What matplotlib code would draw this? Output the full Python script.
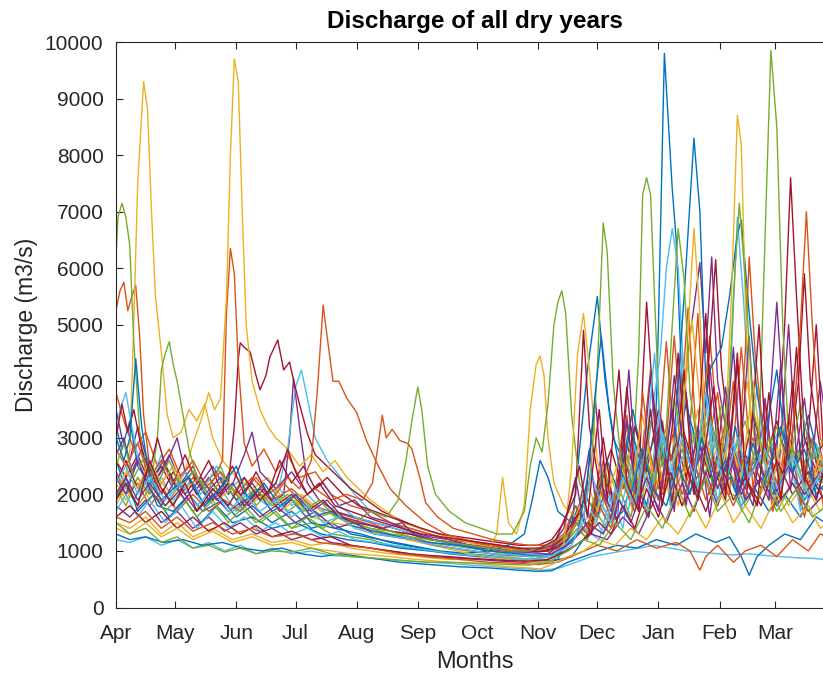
import matplotlib
matplotlib.use("Agg")
import matplotlib.pyplot as plt

# Day of the hydrological year (1 = 1 April) and discharge in m3/s for each dry year
dry01 = [(1,2600),(5,2200),(10,1900),(16,2300),(22,1800),(30,1700),(38,2000),(45,1700),(55,1900),(62,1600),(70,1800),(80,1500),(90,1700),(100,1400),(110,1500),(120,1300),(135,1200),(150,1100),(165,1000),(180,950),(195,900),(210,850),(222,820),(232,900),(240,1300),(246,1900),(252,1500),(258,1700),(264,2400),(270,1800),(274,2500),(276,5000),(279,9800),(283,7400),(285,6500),(289,3000),(294,2200),(300,2600),(306,1900),(312,2300),(318,1800),(325,2100),(332,1700),(340,2000),(348,1600),(356,2200),(365,1900)]
dry02 = [(1,5250),(3,5600),(5,5750),(7,5250),(9,5500),(11,5700),(13,4800),(15,3400),(18,2500),(22,2100),(28,2400),(34,2000),(40,2300),(48,1900),(56,2200),(64,2000),(72,2300),(80,1900),(90,2100),(100,1800),(110,1700),(120,1600),(130,1500),(140,1350),(150,1300),(160,1200),(172,1150),(185,1050),(198,1000),(210,950),(220,950),(230,1200),(236,1700),(242,1300),(248,2600),(254,1600),(260,3400),(265,1800),(272,4200),(278,2000),(284,4800),(290,2200),(296,5200),(300,2600),(306,3800),(312,2000),(318,4600),(324,2100),(330,3600),(336,1900),(342,3400),(348,1800),(354,3000),(360,1700),(365,2200)]
dry03 = [(1,1800),(5,2100),(8,2800),(10,5000),(12,7500),(15,9300),(17,8800),(19,7000),(21,5500),(24,4500),(27,3400),(30,3000),(34,3100),(38,3500),(42,3300),(46,3600),(50,3000),(55,2600),(62,2300),(70,2100),(78,2300),(86,1900),(95,2000),(105,1700),(115,1600),(125,1500),(135,1400),(145,1300),(155,1200),(165,1100),(178,1000),(190,950),(200,900),(210,850),(220,900),(228,1100),(234,1500),(240,1200),(246,1900),(252,1500),(258,2300),(263,1700),(269,2800),(274,2000),(280,2500),(286,1800),(293,3100),(298,2200),(304,2700),(310,2000),(318,2500),(326,1900),(334,2400),(342,1800),(350,2200),(358,1700),(365,2000)]
dry04 = [(1,3500),(4,3000),(8,2600),(12,3200),(16,2700),(22,2300),(28,2700),(34,2200),(40,2500),(46,2000),(54,2300),(62,1900),(70,2200),(78,1800),(86,2000),(89,3000),(91,4050),(94,3200),(98,2200),(104,1900),(112,1700),(122,1600),(132,1500),(142,1400),(152,1300),(162,1200),(174,1100),(186,1050),(198,1000),(210,950),(220,950),(228,1200),(234,1800),(240,1400),(246,2300),(252,1700),(258,2700),(264,2000),(270,2500),(276,1900),(282,2900),(288,3500),(292,4800),(297,6100),(300,4500),(303,6200),(306,4000),(312,2800),(318,2200),(324,3000),(330,2300),(336,5400),(340,3200),(346,2500),(352,3100),(358,2300),(365,2600)]
dry05 = [(1,6200),(2,6900),(4,7150),(6,6900),(8,6400),(10,4700),(13,3100),(16,2400),(20,2000),(26,1800),(32,2100),(40,1700),(48,1900),(56,1600),(64,1800),(72,1500),(80,1700),(90,1400),(100,1500),(110,1300),(120,1250),(130,1200),(140,1100),(150,1050),(160,1000),(170,950),(180,920),(190,900),(200,880),(210,850),(220,900),(228,1100),(235,1400),(240,1200),(246,1800),(252,1400),(258,2200),(262,1900),(266,4500),(268,7300),(270,7600),(272,7300),(274,5500),(277,3000),(282,2200),(288,2800),(294,2000),(300,2600),(306,1900),(312,2400),(320,1800),(328,2300),(336,1700),(344,2200),(352,1700),(360,2000),(365,1800)]
dry06 = [(1,2400),(6,2100),(12,2600),(18,2000),(24,2300),(30,1900),(38,2200),(46,1800),(54,2100),(62,1700),(70,2000),(78,1800),(84,2200),(88,2800),(92,3900),(95,4200),(98,3700),(102,3000),(108,2600),(115,2300),(122,2000),(130,1700),(140,1500),(150,1400),(160,1300),(170,1200),(180,1100),(190,1050),(200,1000),(210,950),(220,1000),(228,1200),(235,1500),(242,1300),(250,2000),(256,1600),(262,2500),(268,2000),(273,3500),(277,4500),(280,6000),(283,6700),(286,6000),(289,4000),(292,3200),(298,2500),(304,3100),(310,2400),(313,4500),(316,6900),(319,5500),(323,3300),(330,2600),(338,3200),(344,2400),(350,3000),(356,2200),(365,2500)]
dry07 = [(1,2600),(6,2300),(12,2700),(18,2200),(24,2500),(30,2100),(36,2400),(42,2000),(48,2300),(54,2000),(58,2200),(61,3200),(63,4400),(64,4680),(66,4600),(69,4520),(72,4100),(74,3850),(77,4100),(79,4430),(83,4730),(86,4200),(89,4340),(91,4020),(94,3600),(98,3080),(102,2700),(108,2500),(114,2300),(120,2100),(128,1900),(136,1700),(145,1550),(155,1400),(165,1300),(175,1200),(185,1150),(195,1100),(205,1050),(215,1000),(225,1050),(232,1300),(238,1900),(242,1500),(248,2400),(254,1800),(260,2900),(266,2100),(268,4000),(270,5400),(273,3800),(278,2500),(284,3100),(290,2300),(296,3000),(302,2300),(308,2900),(314,2200),(320,2700),(328,2100),(336,2800),(340,5000),(343,7600),(346,5500),(350,3000),(356,2400),(365,2800)]
dry08 = [(1,3200),(4,2800),(8,3300),(12,2500),(18,2200),(25,2600),(32,2100),(40,2400),(48,1900),(56,2200),(64,1800),(72,2100),(80,1700),(90,1900),(100,1500),(112,1400),(125,1300),(140,1150),(155,1050),(170,950),(185,900),(200,850),(215,800),(225,850),(232,1400),(236,2800),(240,4200),(245,5500),(249,4000),(253,3000),(258,2600),(263,3500),(267,2800),(272,2400),(278,3000),(283,2600),(286,4000),(289,5500),(294,8300),(297,7000),(300,4000),(304,3000),(310,2400),(315,3200),(320,2300),(328,2800),(335,2000),(342,2500),(350,1900),(357,2300),(365,2000)]
dry09 = [(1,3800),(5,3300),(10,2800),(16,3100),(22,2500),(28,2800),(34,2300),(40,2600),(46,2200),(52,2400),(55,2600),(57,5200),(59,6350),(61,5900),(63,4300),(66,2900),(70,2500),(76,2800),(82,2400),(88,2700),(94,2300),(102,2400),(110,2000),(120,1800),(130,1700),(140,1500),(150,1400),(160,1300),(170,1200),(180,1150),(190,1100),(200,1050),(210,1000),(220,1050),(228,1250),(234,1600),(240,1300),(246,2300),(252,1500),(258,3200),(263,1800),(268,3800),(274,2000),(280,4700),(285,2400),(291,5300),(296,2600),(302,4800),(308,2300),(314,4000),(320,1900),(328,3400),(334,1700),(342,3000),(350,1600),(358,2800),(365,1800)]
dry10 = [(1,2200),(6,1900),(12,2300),(18,1900),(24,2200),(30,2000),(36,2400),(40,2900),(44,3300),(48,3800),(51,3500),(54,3700),(57,5500),(59,8000),(61,9700),(63,9300),(65,7000),(67,5000),(70,4000),(74,3500),(78,3200),(82,3000),(88,2800),(94,2500),(100,2700),(106,2400),(112,2600),(118,2300),(124,2100),(130,1900),(138,1700),(146,1500),(155,1400),(165,1300),(175,1200),(185,1100),(195,1050),(205,1000),(215,1000),(225,1100),(232,1300),(238,1800),(243,1400),(249,2300),(254,1700),(260,3200),(265,2200),(271,2800),(276,2100),(283,3000),(288,2200),(296,3500),(302,2500),(308,3000),(314,2200),(321,4000),(326,2600),(332,2200),(340,2900),(346,2100),(354,2500),(365,1900)]
dry11 = [(1,2700),(5,3000),(9,2400),(14,2800),(20,2200),(26,2500),(32,3000),(36,2400),(42,2100),(50,2500),(58,2000),(66,2700),(70,3100),(74,2400),(82,2100),(90,2400),(98,2000),(106,2200),(114,1800),(122,1900),(130,1600),(140,1500),(150,1350),(160,1250),(170,1200),(180,1100),(190,1050),(200,1000),(210,980),(220,1000),(230,1200),(236,1800),(241,2800),(245,1600),(250,2200),(255,1500),(261,4200),(265,2200),(271,1600),(278,3300),(284,1700),(290,3800),(296,1900),(302,4300),(308,2100),(314,4600),(318,2300),(324,1800),(330,3700),(336,1900),(342,5000),(346,2600),(352,1900),(358,4000),(365,2400)]
dry12 = [(1,2100),(6,1800),(12,2300),(18,2000),(22,3000),(24,4200),(26,4500),(28,4700),(30,4300),(32,4000),(35,3400),(38,2800),(42,2300),(48,2100),(54,2500),(60,2000),(66,2300),(72,1800),(80,2100),(88,1700),(96,1900),(104,1600),(112,1700),(120,1500),(130,1400),(140,1300),(150,1250),(160,1150),(170,1100),(180,1050),(190,1000),(200,950),(210,900),(220,920),(228,1100),(236,1300),(244,1700),(250,1400),(256,2100),(262,1600),(268,2600),(274,1900),(280,3000),(286,2200),(292,2800),(298,2100),(304,3000),(310,2300),(316,2900),(322,2400),(327,3000),(330,6500),(333,9850),(336,8500),(339,5000),(342,3000),(348,2400),(354,2900),(360,2200),(365,2400)]
dry13 = [(1,3000),(3,3500),(6,3800),(9,3200),(13,2500),(18,2200),(24,2700),(30,2100),(36,2400),(44,2000),(52,2500),(58,2100),(66,2300),(74,1900),(82,2200),(90,1800),(98,2000),(106,1700),(114,1800),(122,1600),(132,1500),(142,1400),(152,1300),(162,1200),(172,1100),(182,1050),(192,1000),(202,950),(212,920),(222,950),(230,1150),(238,1400),(246,1200),(252,2000),(258,1400),(264,2900),(270,1600),(276,3400),(282,1800),(288,4400),(294,2200),(300,3600),(306,1800),(312,3300),(318,1700),(326,3900),(332,1900),(340,3200),(348,1700),(356,2900),(365,1900)]
dry14 = [(1,3000),(4,3600),(7,3100),(10,3500),(14,2800),(18,2400),(22,3000),(26,2500),(30,2200),(36,2700),(42,2200),(48,2600),(54,2100),(60,2500),(66,2000),(72,2400),(78,2000),(84,2600),(90,2200),(96,2500),(102,2100),(108,2300),(116,2000),(124,1800),(132,1700),(140,1600),(148,1500),(156,1400),(165,1300),(175,1250),(185,1200),(195,1150),(205,1100),(215,1100),(222,1200),(228,1500),(234,2000),(238,4900),(241,3200),(246,2200),(252,2800),(258,2100),(264,3200),(270,2400),(276,3500),(282,2600),(288,3200),(294,2500),(300,3600),(305,6150),(308,4200),(312,3000),(318,2400),(324,3400),(330,2600),(336,3300),(342,2500),(347,4000),(350,5900),(353,4000),(358,2800),(365,3200)]
dry15 = [(1,1900),(6,2300),(12,1700),(20,2000),(28,1600),(36,1900),(44,1500),(52,1800),(60,1500),(70,1600),(80,1400),(92,1500),(105,1300),(118,1200),(130,1150),(145,1050),(160,1000),(175,950),(190,1000),(200,1100),(208,1300),(212,1900),(216,2600),(220,2300),(225,1700),(232,1500),(238,2000),(244,1700),(250,2600),(256,2000),(262,3200),(268,2400),(275,3100),(282,2200),(290,3600),(296,2800),(302,4200),(308,4600),(312,5500),(316,6600),(318,6850),(322,5200),(326,3800),(330,3000),(336,4200),(340,3000),(346,2600),(352,3400),(358,2500),(365,2200)]
dry16 = [(1,2400),(6,2000),(12,2200),(18,1800),(25,2100),(32,1700),(40,2000),(48,1700),(56,1900),(64,1700),(72,2000),(80,1900),(88,2300),(94,2100),(100,2600),(103,3800),(106,5350),(108,4800),(111,4000),(114,4000),(118,3700),(123,3450),(128,2950),(134,2500),(140,2100),(148,1800),(158,1500),(168,1300),(178,1200),(190,1100),(200,1050),(210,1000),(220,1050),(228,1200),(234,1500),(240,1300),(246,1800),(252,1400),(258,2200),(264,1700),(270,2600),(276,1900),(282,2400),(288,1800),(296,2800),(302,2000),(310,3300),(316,2400),(320,4500),(322,6200),(325,4500),(330,2800),(338,2300),(346,2800),(352,2200),(358,2600),(365,2000)]
dry17 = [(1,1500),(8,1400),(16,1600),(24,1300),(32,1500),(40,1250),(50,1400),(60,1200),(70,1300),(80,1150),(90,1200),(100,1100),(110,1150),(120,1050),(130,1000),(140,950),(150,920),(160,880),(170,850),(180,850),(188,900),(194,1300),(197,2300),(200,1500),(204,1300),(208,1800),(211,3500),(214,4300),(216,4450),(218,4100),(220,3000),(223,2200),(228,1800),(234,1600),(240,2200),(245,1700),(250,2500),(256,1900),(262,2800),(268,2000),(275,2600),(282,2000),(288,3000),(292,5500),(294,6700),(297,5200),(300,3000),(305,2400),(310,3100),(313,5500),(316,8700),(318,8200),(320,5500),(323,3000),(328,2500),(334,3000),(340,2300),(346,2800),(352,2100),(358,2500),(365,2000)]
dry18 = [(1,1800),(8,1600),(16,1900),(24,1500),(32,1700),(40,1400),(48,1600),(56,1350),(64,1500),(72,1300),(80,1400),(90,1200),(100,1300),(110,1150),(120,1100),(130,1050),(140,1000),(150,950),(160,900),(172,880),(184,850),(196,820),(208,800),(218,820),(226,950),(234,1100),(242,1300),(250,1200),(258,1600),(266,1300),(274,1900),(280,1500),(288,2200),(294,1700),(300,2400),(306,1800),(314,2600),(320,1900),(328,2300),(336,1800),(344,2200),(352,1700),(360,2000),(365,1800)]
dry19 = [(1,1900),(6,2200),(12,1800),(18,2100),(26,1700),(34,2000),(42,1600),(50,1900),(58,1500),(66,1800),(74,1500),(82,1700),(90,1400),(98,1600),(106,1400),(114,1600),(122,1500),(130,1700),(138,1600),(144,1900),(148,2600),(151,3300),(154,3900),(156,3500),(159,2500),(163,2000),(170,1700),(178,1500),(186,1400),(194,1300),(202,1300),(208,1700),(211,2500),(214,3000),(217,2750),(220,3600),(223,5000),(225,5400),(227,5600),(229,5200),(232,3400),(236,2200),(242,1800),(248,2400),(254,1900),(260,2700),(266,2000),(272,3300),(278,2500),(284,3700),(290,2600),(296,3200),(302,2400),(308,3600),(314,2700),(320,3300),(326,2400),(332,3000),(338,2300),(346,2800),(354,2200),(365,2500)]
dry20 = [(1,1200),(8,1150),(16,1250),(24,1100),(32,1200),(40,1050),(48,1150),(56,1000),(64,1100),(72,950),(80,1050),(90,950),(100,1000),(110,920),(120,900),(130,870),(140,850),(150,820),(160,800),(170,780),(180,750),(190,730),(200,700),(210,680),(218,660),(226,700),(234,800),(242,900),(250,950),(258,1000),(266,1050),(274,1100),(282,1050),(290,1000),(298,980),(306,950),(314,930),(322,950),(330,920),(338,900),(346,880),(354,870),(360,850),(365,840)]
dry21 = [(1,2200),(6,2600),(12,2100),(18,2500),(24,2000),(30,2400),(36,2000),(42,2300),(50,1900),(58,2200),(66,1800),(74,2100),(82,1800),(90,2000),(98,1700),(106,1900),(114,1600),(122,1500),(130,1450),(140,1350),(150,1300),(160,1200),(170,1150),(180,1100),(190,1050),(200,1000),(210,980),(220,1000),(228,1250),(236,1700),(242,1300),(248,3000),(254,1600),(260,3900),(265,2000),(271,1600),(277,3400),(283,1800),(289,4200),(294,2000),(300,5200),(304,2500),(310,1900),(316,4300),(321,2100),(327,5000),(331,2500),(338,1900),(344,4000),(350,2100),(356,5000),(360,2600),(365,3600)]
dry22 = [(1,1300),(8,1200),(16,1250),(25,1150),(35,1200),(45,1100),(55,1150),(65,1050),(75,1000),(85,1050),(95,950),(105,900),(115,950),(125,900),(135,850),(145,800),(160,760),(175,720),(190,700),(205,660),(215,640),(222,650),(230,800),(238,900),(246,1000),(255,1100),(265,1050),(275,1200),(285,1100),(295,1300),(305,1150),(312,1250),(318,900),(322,570),(326,900),(332,1100),(340,1300),(348,1200),(356,1600),(365,1400)]
dry23 = [(1,2800),(6,2500),(12,2900),(18,2300),(24,2600),(30,2200),(38,2500),(46,2100),(54,2400),(62,2000),(70,2300),(78,2000),(86,2200),(94,1900),(102,2100),(110,1900),(118,2000),(126,1900),(131,2200),(134,2900),(136,3400),(138,3000),(141,3150),(145,2950),(149,2900),(151,2800),(155,2300),(158,1850),(164,1600),(172,1400),(182,1300),(192,1200),(200,1150),(210,1100),(220,1100),(228,1300),(234,1800),(240,1400),(246,2100),(252,1600),(258,2500),(264,1800),(270,3000),(276,2100),(282,2700),(288,2000),(294,2600),(300,1900),(306,2400),(314,1800),(320,2300),(326,1800),(332,2600),(338,2000),(344,3100),(348,5000),(351,7000),(354,5000),(358,3000),(365,2500)]
dry24 = [(1,2000),(6,2400),(12,2100),(18,2600),(24,2200),(30,2500),(36,2100),(44,2300),(52,1900),(60,2100),(68,1800),(76,2000),(84,1700),(92,1900),(100,1600),(110,1500),(120,1450),(130,1350),(142,1250),(155,1150),(168,1050),(180,950),(192,880),(204,830),(214,800),(222,820),(228,1100),(232,2500),(235,4500),(238,5200),(241,4200),(245,2600),(250,2000),(256,2600),(262,2000),(268,3400),(273,2400),(279,2000),(285,2800),(290,4000),(293,5100),(296,4000),(300,2600),(306,2100),(312,3000),(318,2300),(324,4000),(328,2800),(334,2200),(340,3300),(346,2400),(352,2000),(358,2700),(365,2200)]
dry25 = [(1,2300),(6,2000),(12,2600),(18,2100),(24,1800),(30,2200),(36,1900),(44,2300),(52,1900),(60,2200),(68,1800),(76,2100),(84,1700),(92,2000),(100,1700),(108,1900),(116,1600),(126,1500),(136,1400),(146,1500),(152,1300),(162,1200),(172,1150),(182,1100),(192,1050),(202,1000),(212,1000),(222,1100),(228,1400),(234,2300),(238,1500),(244,3700),(248,2000),(254,1600),(260,3300),(266,1700),(272,4100),(277,2000),(283,3500),(290,1800),(296,3200),(302,1600),(310,3900),(316,2000),(322,4800),(326,2400),(332,1900),(338,4300),(343,2100),(350,3700),(356,1900),(365,3200)]
dry26 = [(1,2500),(5,2900),(10,2300),(16,2700),(22,2200),(28,2600),(34,2100),(40,2400),(48,2000),(56,2300),(64,1900),(72,2100),(80,1800),(88,2000),(96,1700),(104,1900),(112,1600),(120,1500),(130,1400),(140,1350),(150,1250),(160,1200),(170,1150),(180,1100),(190,1050),(200,1000),(210,1000),(220,1100),(230,1300),(238,1600),(242,2500),(245,4200),(248,6800),(250,6300),(253,4000),(257,2600),(262,2100),(268,2800),(274,2200),(280,3200),(283,5000),(286,6700),(289,5800),(292,3800),(296,2800),(302,3400),(308,2600),(312,4000),(314,5500),(317,7150),(320,5800),(324,3500),(330,2600),(336,3200),(342,2500),(348,3600),(354,2600),(360,3000),(365,2500)]
dry27 = [(1,1700),(6,2000),(12,1600),(18,1900),(26,1500),(34,1800),(42,1400),(50,1700),(58,1400),(66,1600),(74,1350),(82,1500),(90,1300),(98,1400),(106,1250),(114,1350),(122,1200),(132,1150),(142,1100),(152,1050),(162,1000),(172,950),(182,920),(192,900),(202,870),(212,850),(222,900),(230,1100),(236,1400),(242,1700),(248,1300),(254,2100),(260,1600),(266,2600),(272,2000),(278,3100),(284,2300),(290,2800),(296,2100),(302,3300),(308,2400),(314,2900),(320,2200),(328,2700),(336,2000),(344,2600),(352,1900),(360,2300),(365,2000)]
dry28 = [(1,1600),(8,1800),(16,1500),(24,1700),(32,1400),(40,1600),(48,1350),(56,1500),(64,1300),(72,1450),(80,1250),(90,1350),(100,1200),(110,1250),(120,1100),(130,1050),(140,1000),(150,950),(160,920),(170,900),(180,870),(190,850),(200,830),(210,820),(220,850),(230,1000),(238,1200),(246,1500),(252,1300),(258,1800),(264,1400),(270,2100),(276,1600),(282,2400),(288,1800),(294,2200),(300,1700),(308,2500),(314,1900),(320,2300),(328,1800),(336,2600),(344,2000),(352,2400),(360,1900),(365,2100)]
dry29 = [(1,3000),(5,2600),(8,3000),(11,4400),(14,3200),(18,2300),(24,1900),(30,2100),(38,2300),(46,1800),(54,2100),(62,2500),(68,1900),(76,2200),(84,1800),(92,2000),(100,1600),(110,1700),(120,1450),(132,1350),(145,1250),(160,1150),(175,1100),(190,1000),(205,950),(215,900),(225,950),(235,1300),(240,2300),(244,3800),(247,4800),(251,3500),(256,2500),(262,2000),(268,2800),(273,2100),(280,1800),(286,2500),(292,2000),(298,3000),(304,2200),(310,2600),(316,2000),(324,2900),(330,2200),(338,3200),(344,2400),(350,2800),(356,2000),(365,2400)]
dry30 = [(1,1600),(8,1500),(16,1700),(24,1400),(32,1600),(40,1350),(50,1500),(60,1300),(70,1400),(80,1250),(92,1300),(104,1150),(116,1100),(130,1050),(145,950),(160,900),(175,850),(190,800),(205,780),(215,760),(225,800),(235,950),(245,1100),(255,1000),(265,1200),(275,1050),(285,1150),(292,1000),(297,660),(300,900),(306,1100),(314,800),(320,1000),(328,1100),(336,900),(344,1200),(352,1000),(358,1300),(365,1200)]
dry31 = [(1,1400),(8,1300),(16,1500),(24,1250),(32,1400),(40,1200),(50,1350),(60,1150),(70,1250),(80,1100),(90,1150),(100,1050),(110,1000),(120,950),(130,930),(140,900),(150,860),(160,830),(170,800),(180,780),(190,760),(200,720),(210,700),(216,680),(222,760),(230,900),(238,1000),(246,1200),(254,1100),(262,1400),(270,1200),(278,1600),(286,1300),(294,1800),(300,1400),(308,2000),(314,1500),(320,1800),(328,1400),(336,2000),(344,1500),(352,1800),(358,1400),(365,1600)]
dry32 = [(1,2000),(6,2300),(12,1900),(18,2200),(26,1800),(34,2100),(42,1700),(50,2000),(58,1700),(66,1900),(74,1600),(82,1800),(92,1500),(102,1700),(112,1400),(122,1500),(132,1300),(142,1250),(152,1200),(162,1100),(172,1050),(182,1000),(192,950),(202,920),(212,900),(222,950),(232,1150),(240,1500),(248,1300),(256,1900),(262,1500),(270,2300),(276,1700),(281,3000),(284,4100),(288,3000),(294,2400),(300,2900),(306,2100),(312,2700),(318,2000),(326,2600),(334,2000),(342,2500),(350,2000),(358,2400),(365,2100)]
dry33 = [(1,1500),(8,1300),(16,1400),(24,1150),(32,1250),(40,1050),(48,1100),(56,980),(64,1050),(72,950),(80,1000),(90,980),(100,1050),(110,950),(120,900),(130,880),(140,850),(150,820),(160,800),(170,800),(180,790),(190,780),(200,760),(210,750),(220,800),(230,1000),(238,1200),(246,1100),(254,1500),(262,1200),(270,1800),(278,1400),(286,2100),(292,1600),(300,2300),(306,1700),(314,2000),(322,1500),(330,2300),(338,1700),(346,2100),(354,1600),(365,1900)]
dry34 = [(1,2200),(6,2500),(12,2000),(18,2300),(26,1900),(34,2200),(42,1800),(50,2100),(58,1700),(66,2000),(74,1700),(82,1900),(90,1600),(98,1800),(106,1500),(114,1600),(122,1400),(132,1300),(142,1250),(152,1200),(162,1100),(172,1050),(182,1000),(192,950),(202,930),(212,900),(222,920),(232,1100),(238,1600),(242,2400),(246,1900),(252,1500),(258,2300),(264,1800),(270,2900),(274,4500),(277,3200),(282,2400),(288,3000),(294,2300),(300,3800),(304,2700),(310,2200),(316,3000),(322,2300),(330,2800),(336,2100),(344,2700),(352,2000),(360,2500),(365,2200)]
dry35 = [(1,1900),(6,2200),(12,1800),(18,2600),(24,2100),(30,1800),(36,2200),(42,1700),(50,2100),(58,1800),(66,2300),(74,1900),(82,2200),(88,2800),(92,2400),(98,2000),(104,2200),(112,1800),(120,1700),(128,1600),(136,1500),(146,1400),(156,1300),(166,1250),(176,1200),(186,1150),(196,1100),(206,1050),(216,1050),(224,1200),(230,1700),(236,2500),(240,1600),(246,3500),(250,1900),(256,4200),(260,2200),(266,1700),(272,3500),(278,1800),(283,3200),(286,4500),(290,2500),(296,1900),(304,3900),(310,2000),(316,4500),(320,2300),(326,1800),(332,3800),(338,1900),(343,3200),(346,4600),(350,2300),(356,1900),(365,3100)]

dry_years = [dry01, dry02, dry03, dry04, dry05, dry06, dry07,
             dry08, dry09, dry10, dry11, dry12, dry13, dry14,
             dry15, dry16, dry17, dry18, dry19, dry20, dry21,
             dry22, dry23, dry24, dry25, dry26, dry27, dry28,
             dry29, dry30, dry31, dry32, dry33, dry34, dry35]

month_days = [1, 31, 62, 92, 123, 154, 184, 215, 245, 276, 307, 335]
month_labels = ["Apr", "May", "Jun", "Jul", "Aug", "Sep", "Oct", "Nov", "Dec", "Jan", "Feb", "Mar"]
y_ticks = [0, 1000, 2000, 3000, 4000, 5000, 6000, 7000, 8000, 9000, 10000]

line_colors = ["#0072BD", "#D95319", "#EDB120", "#7E2F8E", "#77AC30", "#4DBEEE", "#A2142F"]
ink = "#262626"

plt.rcParams["font.family"] = ["Liberation Sans", "DejaVu Sans"]

fig = plt.figure(figsize=(8.23, 6.75), dpi=100)
ax = fig.add_axes([116 / 823, 1 - 607.5 / 675, (834 - 116) / 823, (607.5 - 42) / 675])

for i, yr in enumerate(dry_years):
    d = [p[0] for p in yr]
    q = [p[1] for p in yr]
    ax.plot(d, q, color=line_colors[i % len(line_colors)], lw=1.0, solid_joinstyle="round")

ax.set_xlim(1, 365)
ax.set_ylim(0, 10000)
ax.set_xticks(month_days)
ax.set_xticklabels(month_labels)
ax.set_yticks(y_ticks)
ax.set_yticklabels([str(v) for v in y_ticks])

ax.tick_params(direction="in", length=5, width=0.8, colors=ink, labelsize=15,
               top=True, right=True)
ax.tick_params(axis="x", pad=12)
ax.tick_params(axis="y", pad=9)
for s in ax.spines.values():
    s.set_color(ink)
    s.set_linewidth(0.8)

ax.set_title("Discharge of all dry years", fontsize=17.5, fontweight="bold", color="black", pad=10)
ax.set_xlabel("Months", fontsize=17, color=ink, labelpad=6)
ax.set_ylabel("Discharge (m3/s)", fontsize=16.5, color=ink, labelpad=5)

fig.savefig("out.png", dpi=100)
